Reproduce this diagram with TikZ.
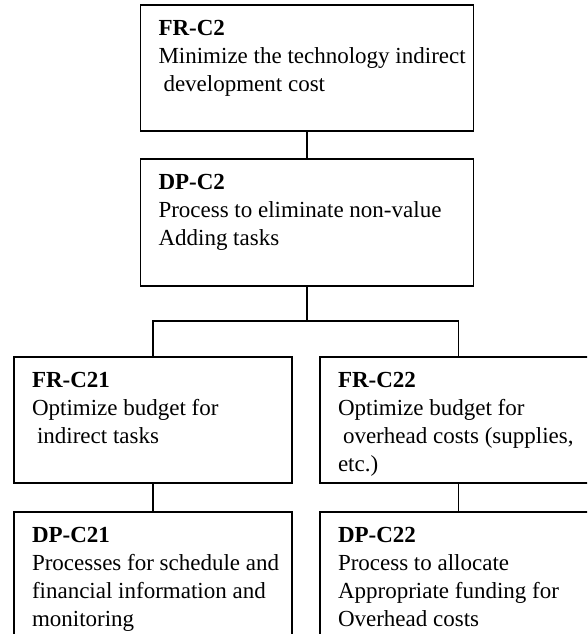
\documentclass[tikz,border=0pt]{standalone}
\usepackage{fontspec}
\setmainfont{Liberation Serif}
\tikzset{
  blk/.style={draw, line width=1.3pt, rectangle, inner sep=0pt, outer sep=0pt, anchor=north west},
  wire/.style={line width=1.3pt}
}
\newcommand{\blkbody}[3]{\parbox[c][#2][t]{#1}{\leftskip=18pt\fontsize{23}{28}\selectfont\rule{0pt}{30pt}#3}}
\begin{document}
\begin{tikzpicture}[x=1pt,y=-1pt]
\useasboundingbox (0,0) rectangle (587,634);
\clip (0,0) rectangle (587,634);
\node[blk] (fr) at (140.5,5) {\blkbody{333pt}{126pt}{\textbf{FR-C2}\\Minimize the technology indirect\\\hspace*{5pt}development cost}};
\node[blk] (dp) at (140.5,159) {\blkbody{333pt}{127pt}{\textbf{DP-C2}\\Process to eliminate non-value\\Adding tasks}};
\node[blk] (fr21) at (14,357) {\blkbody{278pt}{126pt}{\textbf{FR-C21}\\Optimize budget for\\\hspace*{5pt}indirect tasks}};
\node[blk] (fr22) at (320,357) {\blkbody{277pt}{126pt}{\textbf{FR-C22}\\Optimize budget for\\\hspace*{5pt}overhead costs (supplies,\\etc.)}};
\node[blk] (dp21) at (14,512) {\blkbody{278pt}{140pt}{\textbf{DP-C21}\\Processes for schedule and\\financial information and\\monitoring}};
\node[blk] (dp22) at (320,512) {\blkbody{277pt}{140pt}{\textbf{DP-C22}\\Process to allocate\\Appropriate funding for\\Overhead costs}};
\draw[wire] (fr.south) -- (dp.north);
\draw[wire] (dp.south) -- ++(0,35) coordinate (split) -| (fr21.north);
\draw[wire] (split) -| (fr22.north);
\draw[wire] (fr21.south) -- (dp21.north);
\draw[wire] (fr22.south) -- (dp22.north);
\end{tikzpicture}
\end{document}
